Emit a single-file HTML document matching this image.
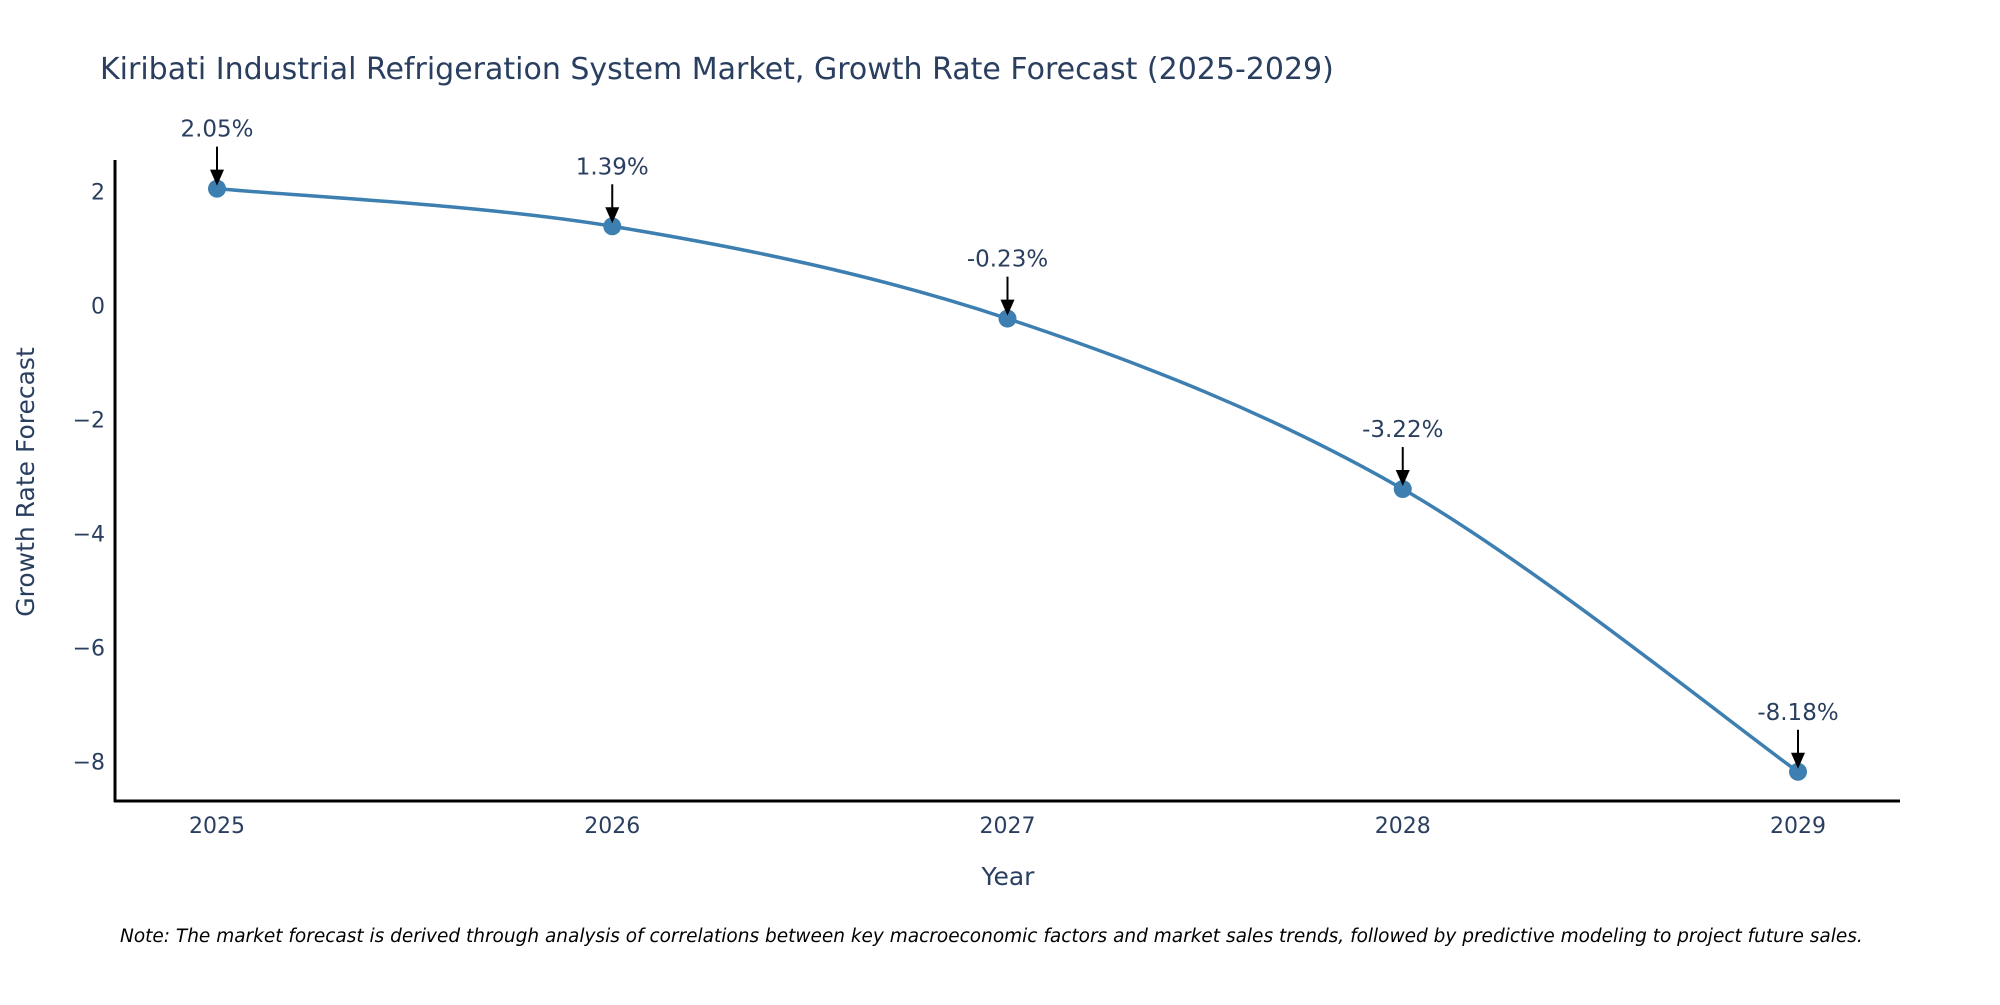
<!DOCTYPE html>
<html><head><meta charset="utf-8"><style>
body{margin:0;background:#fff}
svg text{font-family:"DejaVu Sans","Liberation Sans",sans-serif}
</style></head><body>
<svg id="chart" width="2000" height="1000" xmlns="http://www.w3.org/2000/svg">
<rect width="2000" height="1000" fill="#fff"/>
<text x="100" y="79" font-size="30" fill="#2a3f5f">Kiribati Industrial Refrigeration System Market, Growth Rate Forecast (2025-2029)</text>
<g id="plot"></g>
<line x1="115" y1="160" x2="115" y2="802" stroke="#000" stroke-width="3"/>
<line x1="114" y1="801" x2="1900" y2="801" stroke="#000" stroke-width="3"/>
<text x="1008" y="885" font-size="25" fill="#2a3f5f" text-anchor="middle">Year</text>
<text transform="translate(34,482) rotate(-90)" font-size="25" fill="#2a3f5f" text-anchor="middle">Growth Rate Forecast</text>
<text x="120" y="942" font-size="18.5" font-style="italic" fill="#000">Note: The market forecast is derived through analysis of correlations between key macroeconomic factors and market sales trends, followed by predictive modeling to project future sales.</text>
</svg>
<script>
const years=[2025,2026,2027,2028,2029];
const values=[2.05,1.39,-0.23,-3.22,-8.18];
const labels=["2.05%","1.39%","-0.23%","-3.22%","-8.18%"];
const yTicks=[2,0,-2,-4,-6,-8];
const yTickLabels=["2","0","\u22122","\u22124","\u22126","\u22128"];
const NS="http://www.w3.org/2000/svg";
const xs=y=>217+(y-years[0])*395.25;
const ys=v=>305.5-v*57;
const g=document.getElementById('plot');
function mk(t,a){const e=document.createElementNS(NS,t);for(const k in a)e.setAttribute(k,a[k]);g.appendChild(e);return e;}
yTicks.forEach((t,i)=>{const e=mk('text',{x:105,y:ys(t)+8,'font-size':22,fill:'#2a3f5f','text-anchor':'end'});e.textContent=yTickLabels[i];

});
years.forEach(y=>{const e=mk('text',{x:xs(y),y:833,'font-size':22,fill:'#2a3f5f','text-anchor':'middle'});e.textContent=String(y);

});
const P=years.map((y,i)=>[xs(y),ys(values[i])]);
let d=`M${P[0][0]},${P[0][1]}`;
for(let i=0;i<P.length-1;i++){const p0=P[Math.max(0,i-1)],p1=P[i],p2=P[i+1],p3=P[Math.min(P.length-1,i+2)];const s=1/6;
d+=` C${p1[0]+(p2[0]-p0[0])*s},${p1[1]+(p2[1]-p0[1])*s} ${p2[0]-(p3[0]-p1[0])*s},${p2[1]-(p3[1]-p1[1])*s} ${p2[0]},${p2[1]}`;}
const line=mk('path',{d:d,fill:'none',stroke:'#3d7fb0','stroke-width':3.5});


P.forEach((p,i)=>{const c=mk('circle',{cx:p[0],cy:p[1],r:9,fill:'#3d7fb0'});


const a=mk('line',{x1:p[0],y1:p[1]-42,x2:p[0],y2:p[1]-16,stroke:'#000','stroke-width':2});


const h=mk('path',{d:`M${p[0]-7},${p[1]-19} L${p[0]+7},${p[1]-19} L${p[0]},${p[1]-3} Z`,fill:'#000'});


const t=mk('text',{x:p[0],y:p[1]-52,'font-size':23,fill:'#2a3f5f','text-anchor':'middle'});t.textContent=labels[i];

});
</script>
</body></html>
